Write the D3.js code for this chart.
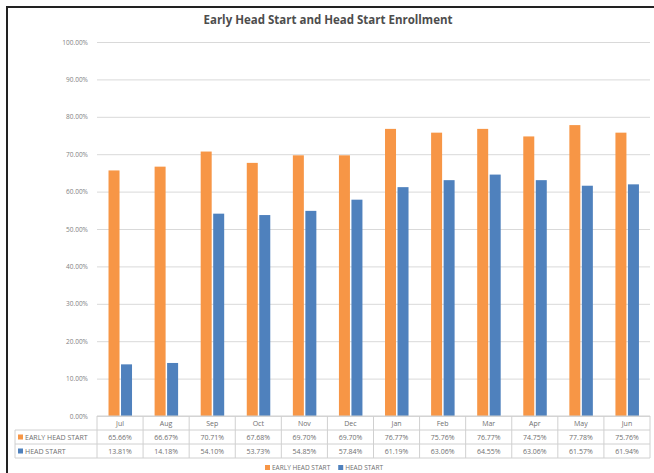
<!DOCTYPE html>
<html>
<head>
<meta charset="utf-8">
<script src="https://cdn.jsdelivr.net/npm/d3@7"></script>
<style>
  body { margin: 0; background: #fff; }
  text { font-family: "Open Sans", "Liberation Sans", sans-serif; fill: #595959; }
</style>
</head>
<body>
<div id="chart"></div>
<script>
// Enrollment by month, program year Jul - Jun
var months = ['Jul', 'Aug', 'Sep', 'Oct', 'Nov', 'Dec', 'Jan', 'Feb', 'Mar', 'Apr', 'May', 'Jun'];
var seriesNames = ['EARLY HEAD START', 'HEAD START'];
var earlyHeadStart = [65.66, 66.67, 70.71, 67.68, 69.70, 69.70, 76.77, 75.76, 76.77, 74.75, 77.78, 75.76];
var headStart = [13.81, 14.18, 54.10, 53.73, 54.85, 57.84, 61.19, 63.06, 64.55, 63.06, 61.57, 61.94];
var yTicks = [0, 10, 20, 30, 40, 50, 60, 70, 80, 90, 100];
var colors = ['#F79646', '#4F81BD'];

var seriesValues = [earlyHeadStart, headStart];

var width = 654, height = 473;
var margin = {top: 42, left: 97, right: 4, bottom: 57};
var rowH = 14;

var svg = d3.select('#chart').append('svg')
  .attr('width', width)
  .attr('height', height);

svg.append('rect').attr('width', width).attr('height', height).attr('fill', '#fff');

// frame (only top and left edges show in the crop)
svg.append('path')
  .attr('d', 'M7,' + height + 'V7H' + width)
  .attr('fill', 'none')
  .attr('stroke', '#222')
  .attr('stroke-width', 2);

var x = d3.scaleBand()
  .domain(months)
  .range([margin.left, width - margin.right]);
var bw = x.bandwidth();
var x1 = d3.scaleBand()
  .domain(seriesNames)
  .range([bw * 0.25, bw * 0.76])
  .paddingInner(0.12);

var y = d3.scaleLinear()
  .domain([0, 100])
  .range([height - margin.bottom, margin.top]);
var fmt = function(v) { return d3.format('.2f')(v) + '%'; };

// title
svg.append('text')
  .attr('x', 328)
  .attr('y', 24)
  .attr('text-anchor', 'middle')
  .style('font-size', '11.5px')
  .style('font-weight', 700)
  .style('fill', '#4d4d4d')
  .text('Early Head Start and Head Start Enrollment');

// gridlines + y labels
var yAxis = d3.axisLeft(y)
  .tickValues(yTicks)
  .tickSize(-(width - margin.right - margin.left))
  .tickPadding(9)
  .tickFormat(fmt);
var gy = svg.append('g')
  .attr('transform', 'translate(' + margin.left + ',0)')
  .call(yAxis);
gy.select('.domain').remove();
gy.selectAll('line').attr('stroke', '#d9d9d9');
gy.selectAll('text').style('font-size', '6.5px').style('fill', '#7f7f7f');

// bars
var groups = svg.append('g')
  .selectAll('g')
  .data(months)
  .enter().append('g')
  .attr('transform', function(d) { return 'translate(' + x(d) + ',0)'; });
groups.selectAll('rect')
  .data(function(d, i) {
    return seriesNames.map(function(s, j) { return {s: s, v: seriesValues[j][i], k: j}; });
  })
  .enter().append('rect')
  .attr('x', function(d) { return x1(d.s); })
  .attr('width', x1.bandwidth())
  .attr('y', function(d) { return y(d.v); })
  .attr('height', function(d) { return y(0) - y(d.v); })
  .attr('fill', function(d) { return colors[d.k]; });

// data table under the axis
var tableTop = y(0);
var tableLeft = 15;
var tbl = svg.append('g');
var gridColor = '#d0d0d0';

// horizontal lines
[0, 1, 2, 3].forEach(function(r) {
  tbl.append('line')
    .attr('x1', r === 0 ? margin.left : tableLeft)
    .attr('x2', width - margin.right)
    .attr('y1', tableTop + r * rowH)
    .attr('y2', tableTop + r * rowH)
    .attr('stroke', gridColor);
});
// vertical lines
months.forEach(function(m) {
  tbl.append('line')
    .attr('x1', x(m)).attr('x2', x(m))
    .attr('y1', tableTop).attr('y2', tableTop + 3 * rowH)
    .attr('stroke', gridColor);
});
tbl.append('line')
  .attr('x1', width - margin.right).attr('x2', width - margin.right)
  .attr('y1', tableTop).attr('y2', tableTop + 3 * rowH)
  .attr('stroke', gridColor);
tbl.append('line')
  .attr('x1', tableLeft).attr('x2', tableLeft)
  .attr('y1', tableTop + rowH).attr('y2', tableTop + 3 * rowH)
  .attr('stroke', gridColor);

// month header
tbl.selectAll('.month')
  .data(months)
  .enter().append('text')
  .attr('class', 'month')
  .attr('x', function(d) { return x(d) + bw / 2; })
  .attr('y', tableTop + rowH / 2 + 2.5)
  .attr('text-anchor', 'middle')
  .style('font-size', '7px')
  .style('fill', '#6f6f6f')
  .text(function(d) { return d; });

// series rows
seriesNames.forEach(function(s, j) {
  var ry = tableTop + (j + 1) * rowH;
  tbl.append('rect')
    .attr('x', tableLeft + 3)
    .attr('y', ry + rowH / 2 - 2.5)
    .attr('width', 5).attr('height', 5)
    .attr('fill', colors[j]);
  tbl.append('text')
    .attr('x', tableLeft + 10)
    .attr('y', ry + rowH / 2 + 2.5)
    .style('font-size', '7px')
    .style('fill', '#6f6f6f')
    .text(s);
  tbl.selectAll('.v' + j)
    .data(seriesValues[j])
    .enter().append('text')
    .attr('class', 'v' + j)
    .attr('x', function(d, i) { return x(months[i]) + bw / 2; })
    .attr('y', ry + rowH / 2 + 2.5)
    .attr('text-anchor', 'middle')
    .style('font-size', '7px')
    .style('fill', '#6f6f6f')
    .text(function(d) { return fmt(d); });
});

// legend
var legend = svg.append('g')
  .attr('transform', 'translate(265,' + (tableTop + 3 * rowH + 12) + ')');
var lx = 0;
seriesNames.forEach(function(s, j) {
  legend.append('rect')
    .attr('x', lx).attr('y', -5)
    .attr('width', 5).attr('height', 5)
    .attr('fill', colors[j]);
  var t = legend.append('text')
    .attr('x', lx + 7)
    .attr('y', 0)
    .style('font-size', '6.5px')
    .style('fill', '#6f6f6f')
    .text(s);
  lx += 7 + t.node().getComputedTextLength() + 8;
});
</script>
</body>
</html>
